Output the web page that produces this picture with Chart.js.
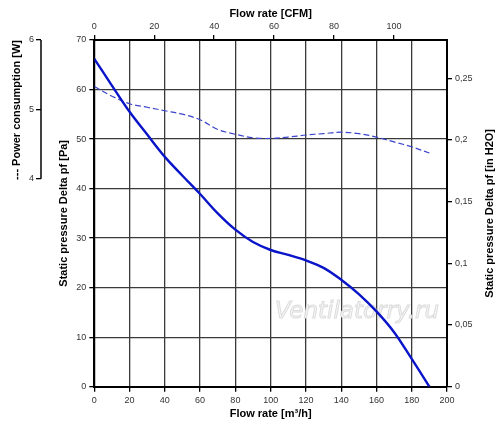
<!DOCTYPE html>
<html><head><meta charset="utf-8">
<script src="https://cdn.jsdelivr.net/npm/chart.js@4"></script>
<style>html,body{margin:0;padding:0;background:#fff}#wrap{width:500px;height:425px;position:relative}</style>
</head><body><div id="wrap"><canvas id="c"></canvas></div>
<script>
const flowM3h = [0,10,20,30,40,50,60,70,80,90,100,110,120,130,140,150,160,170,180,190];
const pressurePa = [66.2,60.8,55.5,50.9,46.4,42.6,38.9,35.0,31.7,29.2,27.6,26.6,25.5,24.0,21.6,18.7,15.2,11.0,5.6,0];
const powerW = [5.33,5.19,5.08,5.03,4.98,4.93,4.85,4.71,4.64,4.59,4.58,4.60,4.63,4.65,4.67,4.65,4.60,4.53,4.46,4.37];
const powerTicks = [4,5,6];
const cfmTicks = [0,20,40,60,80,100];
const inH2OTicks = [0,0.05,0.1,0.15,0.2,0.25];
const M3H_PER_CFM = 1.699;
const INH2O_PER_PA = 0.0040146;

const tickFont = {family:'"Liberation Sans", Arial, sans-serif', size:9};
const titleFont = {family:'"Liberation Sans", Arial, sans-serif', size:11, weight:'bold'};
const gridCol = '#3a3a3a';

const extras = {
  id:'extras',
  beforeDatasetsDraw(chart){
    const ctx = chart.ctx;
    ctx.save();
    ctx.font = 'italic 23px "DejaVu Sans", sans-serif';
    ctx.textAlign = 'center'; ctx.textBaseline = 'middle';
    ctx.fillStyle = '#f6f6f6'; ctx.strokeStyle = '#dcdcdc'; ctx.lineWidth = 1;
    ctx.fillText('Ventilatorry.ru', 357, 312);
    ctx.strokeText('Ventilatorry.ru', 357, 312);
    ctx.restore();
  },
  afterDraw(chart){
    const ctx = chart.ctx, a = chart.chartArea;
    const sp = chart.scales.yP;
    ctx.save();
    ctx.strokeStyle = '#000'; ctx.lineWidth = 1.5;
    ctx.beginPath();
    ctx.moveTo(sp.right, sp.getPixelForValue(6));
    ctx.lineTo(sp.right, sp.getPixelForValue(4));
    ctx.stroke();
    ctx.translate(490, (a.top + a.bottom)/2);
    ctx.rotate(-Math.PI/2);
    ctx.font = 'bold 11px "Liberation Sans", Arial, sans-serif';
    ctx.fillStyle = '#000'; ctx.textAlign = 'center'; ctx.textBaseline = 'middle';
    ctx.fillText('Static pressure Delta pf [in H2O]', 0, 0);
    ctx.restore();
  }
};

new Chart(document.getElementById('c'), {
  type:'line',
  data:{datasets:[
    {label:'Pressure', data:flowM3h.map((q,i)=>({x:q,y:pressurePa[i]})), xAxisID:'x', yAxisID:'y',
     borderColor:'#0a14c8', borderWidth:2.4, pointRadius:0, tension:0.35},
    {label:'Power', data:flowM3h.map((q,i)=>({x:q,y:powerW[i]})), xAxisID:'x', yAxisID:'yP',
     borderColor:'#3a44cc', borderWidth:1.2, borderDash:[6,3], pointRadius:0, tension:0.35}
  ]},
  options:{
    responsive:true, maintainAspectRatio:false, animation:false,
    layout:{padding:0},
    plugins:{legend:{display:false}, tooltip:{enabled:false}},
    scales:{
      x:{type:'linear', position:'bottom', min:0, max:200,
         ticks:{stepSize:20, font:tickFont, color:'#333', padding:3, maxRotation:0},
         grid:{color:gridCol, lineWidth:1.3, tickLength:5, tickColor:'#000'},
         border:{color:'#000', width:2},
         title:{display:true, text:'Flow rate [m³/h]', font:titleFont, color:'#000', padding:{top:2,bottom:4}},
         afterFit(s){s.height = 38.3;}},
      x2:{type:'linear', position:'top', min:0, max:200/M3H_PER_CFM,
         afterBuildTicks(s){s.ticks = cfmTicks.map(v=>({value:v}));},
         ticks:{font:tickFont, color:'#333', padding:3, maxRotation:0},
         grid:{drawOnChartArea:false, tickLength:5, tickColor:'#000', lineWidth:1.3},
         border:{color:'#000', width:2},
         title:{display:true, text:'Flow rate [CFM]', font:titleFont, color:'#000', padding:{top:7,bottom:0}},
         afterFit(s){s.height = 40;}},
      y:{type:'linear', position:'left', min:0, max:70, weight:0,
         ticks:{stepSize:10, font:tickFont, color:'#333', padding:3},
         grid:{color:gridCol, lineWidth:1.3, tickLength:5, tickColor:'#000'},
         border:{color:'#000', width:2},
         title:{display:true, text:'Static pressure Delta pf [Pa]', font:titleFont, color:'#000', padding:{top:16,bottom:2}},
         afterFit(s){s.width = 53.3;}},
      yP:{type:'linear', position:'left', min:1, max:6, weight:1,
         afterBuildTicks(s){s.ticks = powerTicks.map(v=>({value:v}));},
         ticks:{font:tickFont, color:'#333', padding:2},
         grid:{drawOnChartArea:false, tickLength:5, tickColor:'#000', lineWidth:1.3},
         border:{display:false},
         title:{display:true, text:'--- Power consumption [W]', align:'end', font:titleFont, color:'#000', padding:{top:10,bottom:2}},
         afterFit(s){s.width = 41;}},
      yR:{type:'linear', position:'right', min:0, max:70*INH2O_PER_PA,
         afterBuildTicks(s){s.ticks = inH2OTicks.map(v=>({value:v}));},
         ticks:{font:tickFont, color:'#333', padding:3,
                callback:v=>String(Math.round(v*100)/100).replace('.',',')},
         grid:{drawOnChartArea:false, tickLength:5, tickColor:'#000', lineWidth:1.3},
         border:{color:'#000', width:2},
         afterFit(s){s.width = 53;}}
    }
  },
  plugins:[extras]
});
</script></body></html>
